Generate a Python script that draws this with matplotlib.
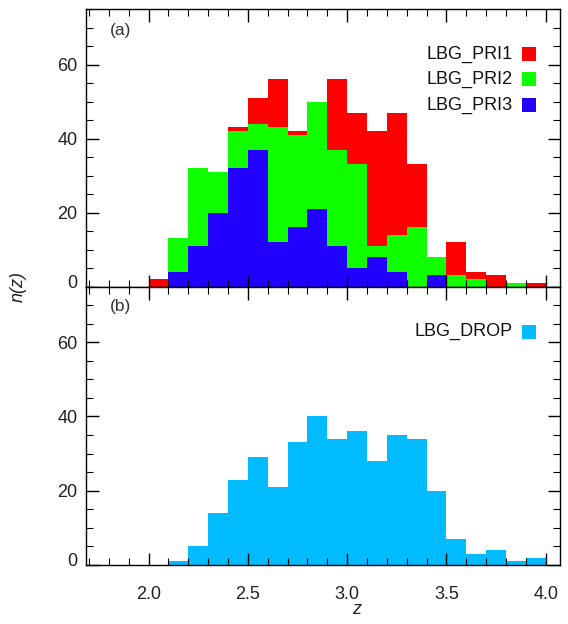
import numpy as np
import matplotlib
matplotlib.use("Agg")
import matplotlib.pyplot as plt
from matplotlib.patches import Rectangle
from matplotlib.ticker import MultipleLocator
from matplotlib.transforms import ScaledTranslation

plt.rcParams['font.family'] = ['Liberation Sans', 'DejaVu Sans']

# bin edges (z from 2.0 to 4.0, width 0.1)
edges = np.round(np.arange(2.0, 4.01, 0.1), 2)

pri1 = [2, 6, 10, 14, 43, 51, 56, 42, 38, 56, 47, 42, 47, 33, 6, 12, 4, 3, 1, 1]
pri2 = [0, 13, 32, 31, 42, 44, 43, 41, 50, 37, 33, 11, 14, 16, 8, 3, 2, 0, 1, 0]
pri3 = [0, 4, 11, 20, 32, 37, 12, 16, 21, 11, 5, 8, 4, 0, 3, 0, 0, 0, 0, 0]
drop = [0, 1, 5, 14, 23, 29, 21, 33, 40, 34, 36, 28, 35, 34, 20, 7, 3, 4, 1, 2]

labels_top = ['LBG_PRI1', 'LBG_PRI2', 'LBG_PRI3']
colors_top = ['#ff0000', '#10ff00', '#2200ff']
label_bot = 'LBG_DROP'
color_bot = '#00bbff'

xticks = [2.0, 2.5, 3.0, 3.5, 4.0]
yticks = [0, 20, 40, 60]

W, H = 568, 624
fig = plt.figure(figsize=(W / 100, H / 100), dpi=100)
left, right = 85.7 / W, 560 / W
y_top, y_mid, y_bot = 1 - 9 / H, 1 - 286.5 / H, 1 - 565 / H
ax1 = fig.add_axes([left, y_mid, right - left, y_top - y_mid])
ax2 = fig.add_axes([left, y_bot, right - left, y_mid - y_bot], sharex=ax1)

for vals, c in zip([pri1, pri2, pri3], colors_top):
    ax1.stairs(vals, edges, fill=True, color=c, linewidth=0)
ax2.stairs(drop, edges, fill=True, color=color_bot, linewidth=0)

for ax in (ax1, ax2):
    ax.set_xlim(1.683, 4.072)
    ax.set_ylim(0, 75)
    ax.set_yticks(yticks)
    ax.yaxis.set_minor_locator(MultipleLocator(5))
    ax.set_xticks(xticks)
    ax.xaxis.set_minor_locator(MultipleLocator(0.1))
    ax.tick_params(which='both', direction='in', top=True, right=True,
                   labelsize=13, colors='black', labelcolor='#222222')
    ax.tick_params(which='major', length=9, width=1)
    ax.tick_params(which='minor', length=5, width=0.8)
    ax.tick_params(axis='y', pad=6)
    for s in ax.spines.values():
        s.set_linewidth(1)

ax1.tick_params(axis='x', labelbottom=False)
ax2.tick_params(axis='x', pad=15)
ax2.set_xticklabels(['%.1f' % t for t in xticks])

# lift the "0" labels slightly, as in the reference
fig.canvas.draw()
for ax in (ax1, ax2):
    lab0 = ax.get_yticklabels()[0]
    lab0.set_transform(lab0.get_transform() +
                       ScaledTranslation(0, 5 / 100, fig.dpi_scale_trans))

ax1.text(0.052, 0.924, '(a)', transform=ax1.transAxes, fontsize=12.5,
         color='#333333', va='center', ha='left')
ax2.text(0.052, 0.927, '(b)', transform=ax2.transAxes, fontsize=12.5,
         color='#333333', va='center', ha='left')

sq_w = 14 / (560 - 85.7)
sq_h1 = 14 / 277.5
rows = [0.838, 0.748, 0.654]
for lab, c, yy in zip(labels_top, colors_top, rows):
    ax1.text(0.901, yy, lab, transform=ax1.transAxes, fontsize=13,
             ha='right', va='center', color='#111111')
    ax1.add_patch(Rectangle((0.919, yy - sq_h1 / 2), sq_w, sq_h1,
                            transform=ax1.transAxes, color=c, lw=0))

sq_h2 = 14 / 278.5
ax2.text(0.901, 0.837, label_bot, transform=ax2.transAxes, fontsize=13,
         ha='right', va='center', color='#111111')
ax2.add_patch(Rectangle((0.919, 0.837 - sq_h2 / 2), sq_w, sq_h2,
                        transform=ax2.transAxes, color=color_bot, lw=0))

fig.text(357 / W, 1 - 610 / H, 'z', fontsize=13, style='italic',
         ha='center', va='center', color='#222222')
fig.text(18 / W, 1 - 287 / H, 'n(z)', fontsize=13, style='italic',
         rotation=90, ha='center', va='center', color='#222222')

fig.savefig('out.png', dpi=100)
